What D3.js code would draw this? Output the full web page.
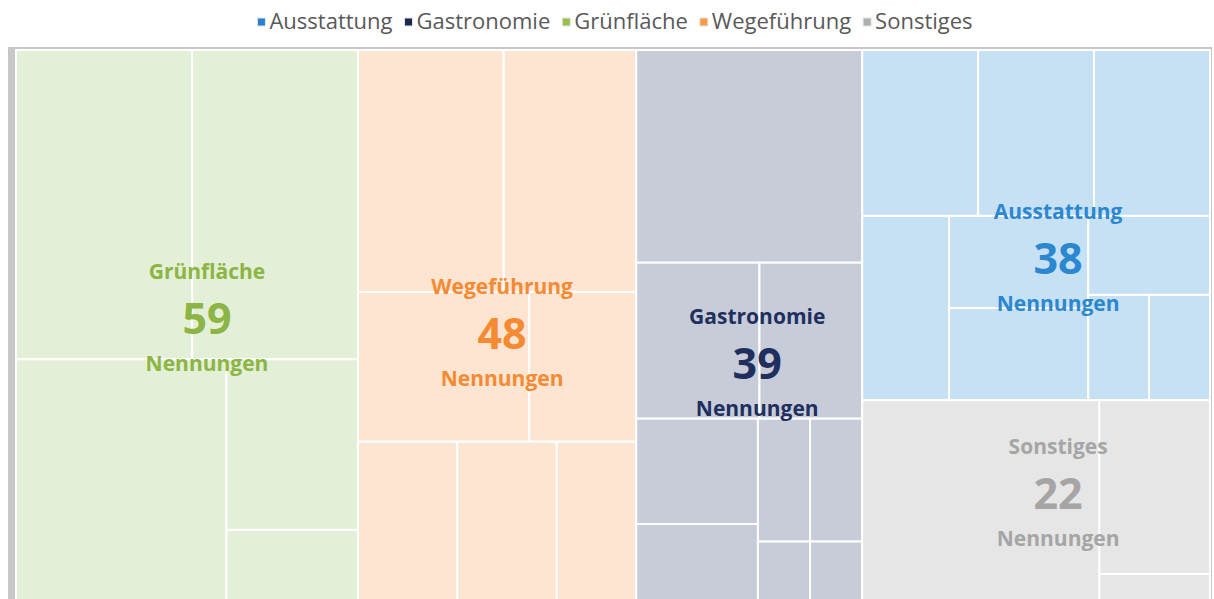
<!DOCTYPE html>
<html>
<head>
<meta charset="utf-8">
<script src="https://cdn.jsdelivr.net/npm/d3@7"></script>
<style>
  body { margin: 0; background: #fff; }
  svg { display: block; font-family: 'Open Sans', sans-serif; }
  .legend text { font-size: 22px; fill: #595959; }
  .cat-label { font-weight: 700; text-anchor: middle; }
</style>
</head>
<body>
<svg width="1214" height="599"></svg>
<script>
  // sub-entries of each category, nested the way the tiles are grouped
  const gruenflaeche = [[17, 16], [16, [7, 3]]];
  const wegefuehrung = [[11, 10], [8, 5], [5, 5, 4]];
  const gastronomie = [15, [6, 5], [[4, 3], [2, 1], [2, 1]]];
  const ausstattung = [[6, 6, 6], [5, [4, 4], [3, [2, 2]]]];
  const sonstiges = [15, [6, 1]];

  const columns = [['Grünfläche'], ['Wegeführung'], ['Gastronomie'], ['Ausstattung', 'Sonstiges']];
  const legendOrder = ['Ausstattung', 'Gastronomie', 'Grünfläche', 'Wegeführung', 'Sonstiges'];
  const countLabel = 'Nennungen';

  const parts = {
    'Grünfläche': gruenflaeche,
    'Wegeführung': wegefuehrung,
    'Gastronomie': gastronomie,
    'Ausstattung': ausstattung,
    'Sonstiges': sonstiges
  };

  const fillColor = d3.scaleOrdinal()
    .domain(legendOrder)
    .range(['#c6e0f4', '#c8ccd9', '#e3efd6', '#fde5d2', '#e6e6e6']);
  const textColor = d3.scaleOrdinal()
    .domain(legendOrder)
    .range(['#2b87cf', '#1f2f5e', '#8cb544', '#f58a33', '#a5a5a5']);
  const markerColor = d3.scaleOrdinal()
    .domain(legendOrder)
    .range(['#2a7fcf', '#1d2855', '#98c04a', '#f79a45', '#aeaeae']);

  // label nudges, Excel does not put them dead centre
  const labelShift = {
    'Grünfläche': [20, -9],
    'Wegeführung': [5, 6],
    'Gastronomie': [8, 36],
    'Ausstattung': [22, 33],
    'Sonstiges': [22, -9]
  };

  const svg = d3.select('svg');
  const margin = { left: 16, top: 50 };
  const innerWidth = 1194;
  const innerHeight = 553;

  // frame around the plot
  svg.append('rect')
    .attr('x', 8).attr('y', 47)
    .attr('width', 1204).attr('height', 560)
    .attr('fill', '#c8c8c8');
  svg.append('rect')
    .attr('x', 15).attr('y', 49)
    .attr('width', 1196).attr('height', 560)
    .attr('fill', '#fff');

  const build = v => Array.isArray(v) ? { children: v.map(build) } : { value: v };

  const rootData = {
    children: columns.map(col => ({
      children: col.map(name => ({ name, children: parts[name].map(build) }))
    }))
  };

  const root = d3.hierarchy(rootData).sum(d => d.value || 0);

  // tall boxes stack, wide boxes go side by side
  const tile = (node, x0, y0, x1, y1) =>
    (x1 - x0 < y1 - y0 ? d3.treemapSlice : d3.treemapDice)(node, x0, y0, x1, y1);

  d3.treemap().tile(tile).size([innerWidth, innerHeight])(root);

  const categoryOf = n => {
    while (n && !n.data.name) n = n.parent;
    return n.data.name;
  };

  const g = svg.append('g')
    .attr('transform', `translate(${margin.left},${margin.top})`);

  g.selectAll('rect.leaf').data(root.leaves())
    .enter().append('rect')
      .attr('class', 'leaf')
      .attr('x', d => d.x0)
      .attr('y', d => d.y0)
      .attr('width', d => d.x1 - d.x0)
      .attr('height', d => d.y1 - d.y0)
      .attr('fill', d => fillColor(categoryOf(d)))
      .attr('stroke', '#fff')
      .attr('stroke-width', 2);

  const cats = root.descendants().filter(d => d.data.name);

  const labels = g.selectAll('g.cat').data(cats)
    .enter().append('g')
      .attr('class', 'cat-label')
      .attr('transform', d => {
        const s = labelShift[d.data.name];
        return `translate(${(d.x0 + d.x1) / 2 + s[0]},${(d.y0 + d.y1) / 2 + s[1]})`;
      })
      .attr('fill', d => textColor(d.data.name));

  labels.append('text')
      .attr('y', -39)
      .attr('font-size', 21)
      .text(d => d.data.name);
  labels.append('text')
      .attr('y', 16)
      .attr('font-size', 43)
      .text(d => d.value);
  labels.append('text')
      .attr('y', 53)
      .attr('font-size', 21)
      .text(countLabel);

  // legend
  const legend = svg.append('g').attr('class', 'legend');
  let x = 0;
  legendOrder.forEach(name => {
    const item = legend.append('g').attr('transform', `translate(${x},0)`);
    item.append('rect')
      .attr('x', 0).attr('y', -11)
      .attr('width', 8).attr('height', 8)
      .attr('fill', markerColor(name))
      .attr('stroke', '#e4e4e4')
      .attr('stroke-width', 1);
    const t = item.append('text')
      .attr('x', 12)
      .text(name);
    x += 12 + t.node().getComputedTextLength() + 12;
  });
  const legendWidth = x - 12;
  legend.attr('transform', `translate(${615 - legendWidth / 2},29)`);
</script>
</body>
</html>
